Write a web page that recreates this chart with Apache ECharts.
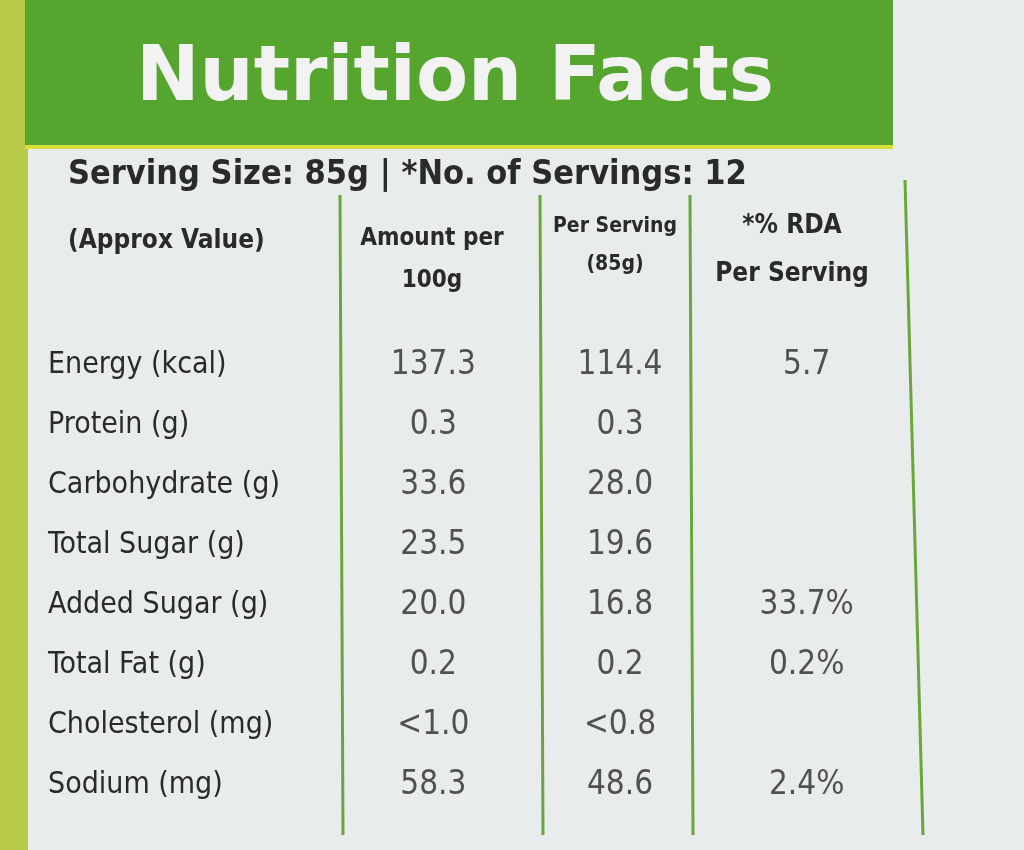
<!DOCTYPE html>
<html><head><meta charset="utf-8">
<script src="https://cdn.jsdelivr.net/npm/echarts@6/dist/echarts.min.js"></script>
<style>html,body{margin:0;padding:0;background:#e9ecec}#c{width:1024px;height:850px}</style>
</head><body><div id="c"></div>
<script>
const nutrients = ["Energy (kcal)","Protein (g)","Carbohydrate (g)","Total Sugar (g)","Added Sugar (g)","Total Fat (g)","Cholesterol (mg)","Sodium (mg)"];
const columns = ["Amount per 100g","Per Serving (85g)","*% RDA Per Serving"];
const per100g = ["137.3","0.3","33.6","23.5","20.0","0.2","<1.0","58.3"];
const perServing = ["114.4","0.3","28.0","19.6","16.8","0.2","<0.8","48.6"];
const rda = ["5.7","","","","33.7%","0.2%","","2.4%"];

const F = "'DejaVu Sans Condensed','Liberation Sans Narrow',sans-serif";
const data = [];
[per100g, perServing, rda].forEach((arr, ci) => arr.forEach((v, ri) => { if (v) data.push([ci, ri, v]); }));
const green = '#6aa63a';
const ink = '#2a2a2a';
function ctext(x, y, text, font, lh) {
  return {type: 'text', x: x, y: y, style: {text: text, textAlign: 'center', textVerticalAlign: 'top', lineHeight: lh, fill: ink, font: font}};
}
const chart = echarts.init(document.getElementById('c'));
chart.setOption({
  backgroundColor: '#e9ecec',
  grid: {left: 340, right: 124, top: 335, bottom: 35},
  xAxis: {type: 'category', data: columns, show: false},
  yAxis: {type: 'category', data: nutrients, inverse: true,
    axisLine: {show: false}, axisTick: {show: false},
    axisLabel: {align: 'left', margin: 292, fontFamily: F, fontSize: 30, color: ink}},
  graphic: [
    {type: 'rect', shape: {x: 0, y: 0, width: 28, height: 850}, style: {fill: '#b8c94a'}, z: -1},
    {type: 'rect', shape: {x: 25, y: 0, width: 868, height: 145}, style: {fill: '#56a52e'}},
    {type: 'rect', shape: {x: 25, y: 145, width: 868, height: 4}, style: {fill: '#d8df3a'}},
    {type: 'text', x: 455, y: 80, style: {text: 'Nutrition Facts', textAlign: 'center', textVerticalAlign: 'middle', fill: '#f2f2f2', font: "900 76px 'DejaVu Sans', Arial, sans-serif"}},
    {type: 'text', x: 68, y: 158, style: {text: 'Serving Size: 85g | *No. of Servings: 12', fill: ink, font: "bold 34px " + F}},
    {type: 'text', x: 68, y: 228, style: {text: '(Approx Value)', fill: ink, font: "bold 26px " + F}},
    ctext(432, 218, 'Amount per\n100g', "bold 24px " + F, 42),
    ctext(615, 208, 'Per Serving\n(85g)', "bold 21px " + F, 38),
    ctext(792, 202, '*% RDA\nPer Serving', "bold 26px " + F, 48),
    ...[340, 540, 690, 905].map((x, i) => ({type: 'line', shape: {x1: x, y1: i === 3 ? 180 : 195, x2: x + (i === 3 ? 18 : 3), y2: 835}, style: {stroke: green, lineWidth: 3}}))
  ],
  series: [{type: 'scatter', data: data, symbolSize: 0, itemStyle: {color: ink},
    label: {show: true, position: 'inside', formatter: p => p.value[2], fontFamily: F, fontSize: 33, color: ink}}]
});
</script></body></html>
